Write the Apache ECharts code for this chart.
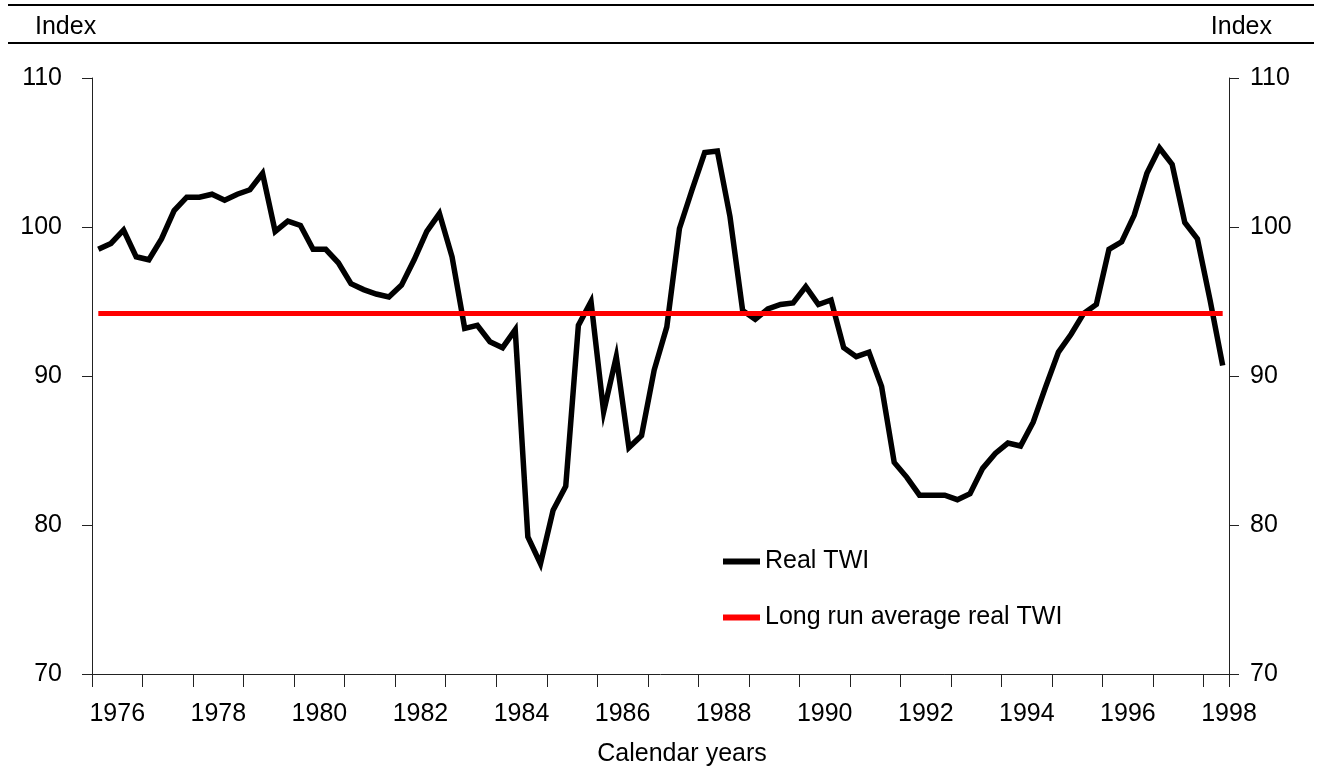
<!DOCTYPE html>
<html>
<head>
<meta charset="utf-8">
<script src="https://cdn.jsdelivr.net/npm/echarts@6/dist/echarts.min.js"></script>
<style>
  html, body { margin: 0; padding: 0; background: #fff; }
  #chart { width: 1324px; height: 778px; }
</style>
</head>
<body>
<div id="chart"></div>
<script>
// quarterly real TWI
var realTwi1970s = [98.5, 98.9, 99.8, 98.0, 97.8, 99.2, 101.1, 102.0, 102.0, 102.2, 101.8, 102.2, 102.5, 103.6, 99.7, 100.4];
var realTwi1980s = [100.1, 98.5, 98.5, 97.6, 96.2, 95.8, 95.5, 95.3, 96.1, 97.8, 99.7, 100.9, 98.0, 93.2, 93.4, 92.3,
                    91.9, 93.1, 79.2, 77.4, 81.0, 82.6, 93.4, 95.0, 87.6, 91.3, 85.2, 86.0, 90.4, 93.3, 99.9, 102.5,
                    105.0, 105.1, 100.7, 94.4, 93.8, 94.5, 94.8, 94.9];
var realTwi1990s = [96.0, 94.8, 95.1, 91.9, 91.3, 91.6, 89.3, 84.2, 83.2, 82.0, 82.0, 82.0, 81.7, 82.1, 83.8, 84.8,
                    85.5, 85.3, 86.9, 89.3, 91.6, 92.8, 94.2, 94.8, 98.5, 99.0, 100.8, 103.6, 105.3, 104.2, 100.3, 99.2,
                    95.1, 90.7];
var longRunAverage = 94.2;

var firstYear = 1976;
var quarterCount = 90;   // 1976Q1 .. 1998Q2
var yTicks = [70, 80, 90, 100, 110];

var realTwi = realTwi1970s.concat(realTwi1980s, realTwi1990s);
var quarters = [];
for (var i = 0; i < quarterCount; i++) {
  quarters.push((firstYear + Math.floor(i / 4)) + 'Q' + (i % 4 + 1));
}

var font = '"Liberation Sans", Arial, sans-serif';
var fontSize = 25;
var axisColor = '#222';

var chart = echarts.init(document.getElementById('chart'));

var yAxisBase = {
  type: 'value',
  min: yTicks[0],
  max: yTicks[yTicks.length - 1],
  interval: 10,
  splitLine: { show: false },
  axisLine: { show: true, lineStyle: { color: axisColor, width: 1 } },
  axisTick: { show: true, length: 10, lineStyle: { color: axisColor } },
  axisLabel: { color: '#000', fontSize: fontSize, fontFamily: font }
};

var option = {
  animation: false,
  backgroundColor: '#fff',
  grid: { left: 92, right: 95, top: 78, bottom: 104 },
  xAxis: {
    type: 'category',
    data: quarters,
    boundaryGap: true,
    axisLine: { show: true, lineStyle: { color: axisColor, width: 1 } },
    axisTick: { show: true, interval: 3, length: 13, lineStyle: { color: axisColor, width: 1 } },
    axisLabel: {
      interval: function (idx) { return idx % 8 === 1; },
      formatter: function (v) { return v.slice(0, 4); },
      padding: [0, 0, 0, 12.6],
      margin: 28,
      color: '#000',
      fontSize: fontSize,
      fontFamily: font
    }
  },
  yAxis: [
    Object.assign({}, yAxisBase, { position: 'left', axisLabel: Object.assign({}, yAxisBase.axisLabel, { margin: 30 }) }),
    Object.assign({}, yAxisBase, { position: 'right', axisLabel: Object.assign({}, yAxisBase.axisLabel, { margin: 21 }) })
  ],
  legend: {
    orient: 'vertical',
    left: 718,
    top: 544,
    itemWidth: 37,
    itemHeight: 6,
    itemGap: 31,
    icon: 'rect',
    textStyle: { color: '#000', fontSize: fontSize, fontFamily: font },
    data: ['Real TWI', 'Long run average real TWI']
  },
  graphic: [
    { type: 'line', shape: { x1: 8, y1: 5, x2: 1314, y2: 5 }, style: { stroke: '#000', lineWidth: 2 } },
    { type: 'line', shape: { x1: 8, y1: 43, x2: 1314, y2: 43 }, style: { stroke: '#000', lineWidth: 2 } },
    { type: 'text', style: { x: 35, y: 27, text: 'Index', fill: '#000', font: fontSize + 'px ' + font, textVerticalAlign: 'middle' } },
    { type: 'text', style: { x: 1272, y: 27, text: 'Index', fill: '#000', font: fontSize + 'px ' + font, textAlign: 'right', textVerticalAlign: 'middle' } },
    { type: 'text', style: { x: 682, y: 754, text: 'Calendar years', fill: '#000', font: fontSize + 'px ' + font, textAlign: 'center', textVerticalAlign: 'middle' } }
  ],
  series: [
    {
      name: 'Real TWI',
      type: 'line',
      data: realTwi,
      symbol: 'none',
      color: '#000',
      lineStyle: { color: '#000', width: 5.5, join: 'miter' },
      z: 3
    },
    {
      name: 'Long run average real TWI',
      type: 'line',
      data: [[quarters[0], longRunAverage], [quarters[quarterCount - 1], longRunAverage]],
      symbol: 'none',
      color: '#ff0000',
      lineStyle: { color: '#ff0000', width: 5 },
      z: 4
    }
  ]
};

chart.setOption(option);
</script>
</body>
</html>
